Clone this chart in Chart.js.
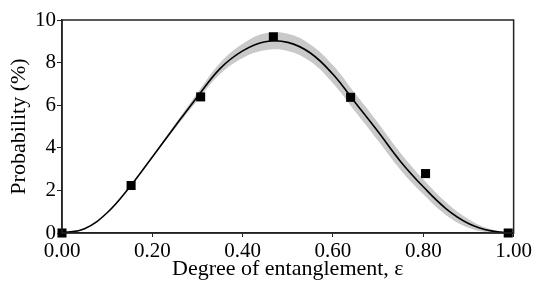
<!DOCTYPE html>
<html>
<head>
<meta charset="utf-8">
<script src="https://cdn.jsdelivr.net/npm/chart.js@4/dist/chart.umd.min.js"></script>
<style>
  html, body { margin: 0; padding: 0; background: #fff; }
  #wrap { width: 534px; height: 286px; }
</style>
</head>
<body>
<div id="wrap"><canvas id="chart"></canvas></div>
<script>
// measured points
const pointX = [0.0, 0.153, 0.307, 0.468, 0.639, 0.805, 0.988];
const pointY = [0.0, 2.23, 6.39, 9.21, 6.37, 2.79, 0.0];

// theory curve
const curveX = [0.0, 0.05, 0.10, 0.15, 0.20, 0.25, 0.30, 0.35, 0.40, 0.45, 0.50, 0.55, 0.60, 0.65, 0.70, 0.75, 0.80, 0.85, 0.90, 0.95, 1.0];
const curveY = [0.0, 0.2, 0.95, 2.16, 3.57, 5.0, 6.4, 7.72, 8.55, 8.98, 8.95, 8.45, 7.45, 6.1, 4.75, 3.35, 2.17, 1.15, 0.45, 0.1, 0.0];

// grey uncertainty band
const bandUpper = [0.0, 0.2, 0.95, 2.16, 3.61, 5.1, 6.58, 7.98, 8.88, 9.38, 9.35, 8.85, 7.87, 6.52, 5.17, 3.75, 2.52, 1.45, 0.65, 0.18, 0.0];
const bandLower = [0.0, 0.2, 0.95, 2.16, 3.53, 4.9, 6.22, 7.46, 8.22, 8.58, 8.55, 8.05, 7.03, 5.68, 4.33, 2.95, 1.82, 0.85, 0.25, 0.02, 0.0];

const xTicks = [0, 0.2, 0.4, 0.6, 0.8, 1.0];
const yTicks = [0, 2, 4, 6, 8, 10];

const toXY = (xs, ys) => xs.map((x, i) => ({ x: x, y: ys[i] }));

const serif = "'Liberation Serif', 'DejaVu Serif', serif";

// box round the plot area
const frame = {
  id: "frame",
  afterDraw(chart) {
    const a = chart.chartArea;
    const ctx = chart.ctx;
    ctx.save();
    ctx.strokeStyle = "#222";
    ctx.lineWidth = 1.5;
    ctx.strokeRect(a.left, a.top, a.right - a.left, a.bottom - a.top);
    ctx.restore();
  }
};

const ctx = document.getElementById("chart").getContext("2d");
new Chart(ctx, {
  type: "scatter",
  data: {
    datasets: [
      {
        data: toXY(curveX, bandUpper),
        showLine: true,
        borderWidth: 0,
        pointRadius: 0,
        backgroundColor: "#c9c9c9",
        tension: 0.4,
        fill: "+1",
        order: 3
      },
      {
        data: toXY(curveX, bandLower),
        showLine: true,
        borderWidth: 0,
        pointRadius: 0,
        tension: 0.4,
        fill: false,
        order: 3
      },
      {
        data: toXY(curveX, curveY),
        showLine: true,
        borderColor: "#000",
        borderWidth: 1.6,
        pointRadius: 0,
        tension: 0.4,
        fill: false,
        order: 2
      },
      {
        data: toXY(pointX, pointY),
        showLine: false,
        pointStyle: "rect",
        pointRadius: 6.4,
        backgroundColor: "#000",
        borderColor: "#000",
        borderWidth: 0,
        clip: false,
        order: 1
      }
    ]
  },
  options: {
    responsive: true,
    maintainAspectRatio: false,
    animation: false,
    layout: { padding: { top: 20, right: 20, left: 0, bottom: 0 } },
    plugins: {
      legend: { display: false },
      tooltip: { enabled: false }
    },
    scales: {
      x: {
        type: "linear",
        min: 0,
        max: 1,
        afterFit: (s) => { s.height = 53; },
        afterBuildTicks: (s) => { s.ticks = xTicks.map(v => ({ value: v })); },
        grid: { display: true, drawOnChartArea: false, tickLength: 4, color: "#222", lineWidth: 1 },
        border: { display: true, color: "#222", width: 1.5 },
        ticks: {
          color: "#000",
          padding: 2,
          font: { family: serif, size: 21 },
          callback: (v) => v.toFixed(2)
        },
        title: {
          display: true,
          text: "Degree of entanglement, ε",
          color: "#000",
          font: { family: serif, size: 22 },
          padding: { top: 0, bottom: 4 }
        }
      },
      y: {
        min: 0,
        max: 10,
        afterFit: (s) => { s.width = 62; },
        afterBuildTicks: (s) => { s.ticks = yTicks.map(v => ({ value: v })); },
        grid: { display: true, drawOnChartArea: false, tickLength: 5, color: "#222", lineWidth: 1 },
        border: { display: true, color: "#222", width: 1.5 },
        ticks: {
          color: "#000",
          padding: 1,
          font: { family: serif, size: 21 },
          callback: (v) => String(v)
        },
        title: {
          display: true,
          text: "Probability (%)",
          color: "#000",
          font: { family: serif, size: 22 },
          padding: { top: 6, bottom: 0 }
        }
      }
    }
  },
  plugins: [frame]
});
</script>
</body>
</html>
